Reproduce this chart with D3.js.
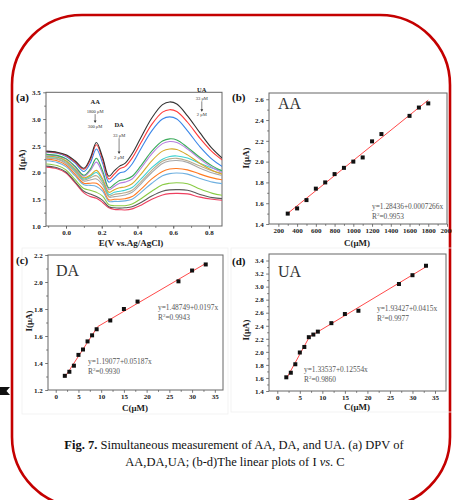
<!DOCTYPE html>
<html lang="en">
<head>
<meta charset="UTF-8">
<title>Fig. 7</title>
<script src="https://cdn.jsdelivr.net/npm/d3@7"></script>
<style>
  body { margin: 0; background: #fff; }
  svg { display: block; }
  text { font-family: "Liberation Serif", "Times New Roman", serif; }
</style>
</head>
<body>
<div id="container"></div>
<script>
// ---- panel (a): DPV curves, 14 concentrations (top curve = highest) ----
const potentials = [-0.11, -0.05, 0.00, 0.05, 0.10, 0.135, 0.17, 0.205, 0.24, 0.27, 0.30, 0.33, 0.37, 0.42, 0.48, 0.54, 0.58, 0.62, 0.68, 0.75, 0.82, 0.88];
const dpvColors = ["#333333", "#ff3a3a", "#3a86e8", "#3aaa5a", "#b77ee0", "#d6a82a", "#3ed2d2", "#b8ab8c", "#a8a8a8", "#ff7a22", "#6fb0e0", "#8acb45", "#5a5a5a", "#ee3f5f"];
const dpvCurves = [
  [2.40, 2.38, 2.33, 2.22, 2.08, 2.26, 2.56, 2.28, 1.93, 2.03, 2.12, 2.17, 2.35, 2.66, 3.02, 3.27, 3.32, 3.28, 3.06, 2.74, 2.44, 2.25],
  [2.39, 2.37, 2.32, 2.20, 2.06, 2.23, 2.52, 2.24, 1.88, 1.97, 2.07, 2.11, 2.27, 2.56, 2.90, 3.13, 3.175, 3.14, 2.94, 2.64, 2.38, 2.22],
  [2.38, 2.36, 2.30, 2.18, 2.02, 2.17, 2.44, 2.17, 1.82, 1.90, 1.99, 2.02, 2.16, 2.45, 2.78, 3.00, 3.04, 3.00, 2.78, 2.48, 2.24, 2.10],
  [2.34, 2.32, 2.26, 2.12, 1.95, 2.06, 2.265, 2.03, 1.71, 1.78, 1.85, 1.87, 1.93, 2.13, 2.40, 2.59, 2.63, 2.61, 2.47, 2.28, 2.12, 2.02],
  [2.33, 2.31, 2.25, 2.10, 1.93, 2.03, 2.195, 1.98, 1.68, 1.74, 1.80, 1.82, 1.88, 2.08, 2.35, 2.54, 2.58, 2.56, 2.44, 2.25, 2.09, 1.99],
  [2.31, 2.29, 2.22, 2.07, 1.90, 1.95, 2.04, 1.88, 1.63, 1.68, 1.715, 1.73, 1.79, 1.97, 2.22, 2.40, 2.44, 2.43, 2.33, 2.17, 2.04, 1.96],
  [2.30, 2.28, 2.21, 2.05, 1.88, 1.93, 2.00, 1.85, 1.59, 1.63, 1.65, 1.67, 1.72, 1.88, 2.09, 2.25, 2.30, 2.31, 2.27, 2.17, 2.08, 2.03],
  [2.28, 2.26, 2.19, 2.03, 1.86, 1.90, 1.94, 1.81, 1.56, 1.59, 1.605, 1.62, 1.67, 1.83, 2.04, 2.21, 2.255, 2.265, 2.22, 2.12, 2.03, 1.98],
  [2.27, 2.25, 2.17, 2.01, 1.84, 1.86, 1.88, 1.77, 1.54, 1.55, 1.56, 1.58, 1.63, 1.79, 2.00, 2.17, 2.215, 2.225, 2.19, 2.08, 1.99, 1.94],
  [2.25, 2.22, 2.14, 1.97, 1.80, 1.80, 1.80, 1.70, 1.49, 1.50, 1.50, 1.51, 1.55, 1.69, 1.88, 2.02, 2.065, 2.075, 2.05, 1.97, 1.90, 1.86],
  [2.22, 2.19, 2.11, 1.94, 1.77, 1.76, 1.74, 1.65, 1.46, 1.46, 1.46, 1.47, 1.50, 1.63, 1.80, 1.94, 1.98, 1.99, 1.97, 1.89, 1.82, 1.79],
  [2.16, 2.13, 2.05, 1.87, 1.70, 1.67, 1.63, 1.56, 1.40, 1.38, 1.38, 1.38, 1.41, 1.51, 1.65, 1.77, 1.80, 1.81, 1.79, 1.69, 1.61, 1.57],
  [2.12, 2.09, 2.01, 1.83, 1.65, 1.60, 1.55, 1.48, 1.36, 1.34, 1.335, 1.34, 1.36, 1.44, 1.56, 1.65, 1.675, 1.68, 1.67, 1.59, 1.53, 1.51],
  [2.10, 2.07, 1.99, 1.81, 1.62, 1.55, 1.52, 1.44, 1.34, 1.31, 1.305, 1.30, 1.32, 1.39, 1.50, 1.58, 1.605, 1.61, 1.60, 1.54, 1.50, 1.48]
];
const aTicksX = [0.0, 0.2, 0.4, 0.6, 0.8];
const aTicksY = [1.0, 1.5, 2.0, 2.5, 3.0, 3.5];

// ---- panel (b): AA ----
const aaConc = [300, 400, 500, 600, 700, 800, 900, 1000, 1100, 1200, 1300, 1600, 1700, 1800];
const aaCurrent = [1.50, 1.55, 1.63, 1.74, 1.80, 1.88, 1.94, 2.00, 2.04, 2.195, 2.265, 2.44, 2.52, 2.56];
const aaFits = [{ a: 1.28436, b: 0.0007266, from: 300, to: 1800 }];
const bTicksX = [200, 400, 600, 800, 1000, 1200, 1400, 1600, 1800, 2000];
const bTicksY = [1.4, 1.6, 1.8, 2.0, 2.2, 2.4, 2.6];

// ---- panel (c): DA ----
const daConc = [2, 3, 4, 5, 6, 7, 8, 9, 12, 15, 18, 27, 30, 33];
const daCurrent = [1.305, 1.335, 1.38, 1.46, 1.50, 1.56, 1.605, 1.65, 1.715, 1.80, 1.855, 2.005, 2.085, 2.13];
const daFits = [{ a: 1.19077, b: 0.05187, from: 2, to: 9.2 }, { a: 1.48749, b: 0.0197, from: 9.2, to: 33 }];
const cTicksX = [0, 5, 10, 15, 20, 25, 30, 35];
const cTicksY = [1.2, 1.4, 1.6, 1.8, 2.0, 2.2];

// ---- panel (d): UA ----
const uaConc = [2, 3, 4, 5, 6, 7, 8, 9, 12, 15, 18, 27, 30, 33];
const uaCurrent = [1.61, 1.68, 1.81, 1.99, 2.075, 2.225, 2.265, 2.31, 2.44, 2.58, 2.63, 3.04, 3.175, 3.32];
const uaFits = [{ a: 1.33537, b: 0.12554, from: 2, to: 7.1 }, { a: 1.93427, b: 0.0415, from: 7.1, to: 33 }];
const dTicksX = [0, 5, 10, 15, 20, 25, 30, 35];
const dTicksY = [1.4, 1.6, 1.8, 2.0, 2.2, 2.4, 2.6, 2.8, 3.0, 3.2, 3.4];

const W = 452, H = 500;
const svg = d3.select("#container").append("svg").attr("width", W).attr("height", H);

// rounded red frame round the whole figure
svg.append("rect").attr("x", 12).attr("y", 15).attr("width", 438).attr("height", 492)
  .attr("rx", 70).attr("fill", "none").attr("stroke", "#c40000").attr("stroke-width", 2.6);

// faint borders of the original sub images
svg.append("rect").attr("x", 22).attr("y", 248).attr("width", 206).attr("height", 166)
  .attr("fill", "none").attr("stroke", "#efefef").attr("stroke-width", 0.8);
svg.append("rect").attr("x", 231).attr("y", 248).attr("width", 230).attr("height", 164)
  .attr("fill", "none").attr("stroke", "#efefef").attr("stroke-width", 0.8);

// small black marker at left edge
svg.append("path").attr("d", "M0,387 L10,387 L6.5,391 L10,395 L0,395 Z").attr("fill", "#111");

function makePanel(p) {
  const g = svg.append("g");
  const x = d3.scaleLinear().domain(p.xDomain).range([p.left, p.right]);
  const y = d3.scaleLinear().domain(p.yDomain).range([p.bottom, p.top]);

  const tickStyle = sel => {
    sel.select(".domain").remove();
    sel.selectAll("line").attr("stroke", "#555").attr("stroke-width", 0.8);
    sel.selectAll("text").attr("font-size", 7).attr("font-weight", "bold")
      .attr("font-family", "Liberation Serif, serif").attr("fill", "#222");
  };
  g.append("g").attr("transform", `translate(0,${p.bottom})`)
    .call(d3.axisBottom(x).tickValues(p.xMinor).tickSize(1.8).tickFormat(""))
    .call(tickStyle);
  g.append("g").attr("transform", `translate(0,${p.bottom})`)
    .call(d3.axisBottom(x).tickValues(p.xTicks).tickSize(2.8).tickPadding(1.5).tickFormat(p.xFmt))
    .call(tickStyle);
  g.append("g").attr("transform", `translate(${p.left},0)`)
    .call(d3.axisLeft(y).tickValues(p.yMinor).tickSize(1.8).tickFormat(""))
    .call(tickStyle);
  g.append("g").attr("transform", `translate(${p.left},0)`)
    .call(d3.axisLeft(y).tickValues(p.yTicks).tickSize(2.8).tickPadding(2.5).tickFormat(d3.format(".1f")))
    .call(tickStyle);

  g.append("rect").attr("x", p.left).attr("y", p.top)
    .attr("width", p.right - p.left).attr("height", p.bottom - p.top)
    .attr("fill", "none").attr("stroke", "#666").attr("stroke-width", 1);

  // panel letter
  g.append("text").attr("x", p.tagX).attr("y", p.tagY).text(p.tag)
    .attr("font-size", 11).attr("font-weight", "bold").attr("fill", "#111");
  // axis titles
  g.append("text").attr("x", p.xTitleX).attr("y", p.xTitleY).attr("text-anchor", "middle")
    .attr("font-size", 9).attr("font-weight", "bold").attr("fill", "#222").text(p.xTitle);
  g.append("text").attr("transform", `translate(${p.yTitleX},${p.yTitleY}) rotate(-90)`)
    .attr("text-anchor", "middle").attr("font-size", 9).attr("font-weight", "bold")
    .attr("fill", "#222").text("I(μA)");
  return { g, x, y };
}

function eqLabel(g, x0, y0, eq, r2) {
  g.append("text").attr("x", x0).attr("y", y0).attr("font-size", 7.4).attr("fill", "#555").text(eq);
  const t = g.append("text").attr("x", x0).attr("y", y0 + 10).attr("font-size", 7.4).attr("fill", "#555");
  t.append("tspan").text("R");
  t.append("tspan").attr("dy", -3).attr("font-size", 5).text("2");
  t.append("tspan").attr("dy", 3).text("=" + r2);
}

function scatterPanel(p, conc, current, fits) {
  const { g, x, y } = makePanel(p);
  fits.forEach(f => {
    g.append("line")
      .attr("x1", x(f.from)).attr("y1", y(f.a + f.b * f.from))
      .attr("x2", x(f.to)).attr("y2", y(f.a + f.b * f.to))
      .attr("stroke", "#ff4a4a").attr("stroke-width", 1);
  });
  g.selectAll("rect.pt").data(conc).enter().append("rect").attr("class", "pt")
    .attr("x", (d) => x(d) - 2).attr("y", (d, i) => y(current[i]) - 2)
    .attr("width", 4).attr("height", 4).attr("fill", "#111");
  g.append("text").attr("x", p.nameX).attr("y", p.nameY).text(p.name)
    .attr("font-size", 16).attr("fill", "#333");
  p.eqs.forEach(e => eqLabel(g, e.x, e.y, e.eq, e.r2));
  return { g, x, y };
}

// ---------- (a) ----------
const pa = makePanel({
  left: 46, right: 222, top: 92.3, bottom: 226,
  xDomain: [-0.112, 0.873], yDomain: [1.0, 3.5],
  xTicks: aTicksX, xMinor: d3.range(-0.1, 0.85, 0.1), xFmt: d3.format(".1f"),
  yTicks: aTicksY, yMinor: d3.range(1.25, 3.5, 0.5),
  tag: "(a)", tagX: 16, tagY: 101,
  xTitle: "E(V vs.Ag/AgCl)", xTitleX: 131, xTitleY: 246,
  yTitleX: 25, yTitleY: 160
});
svg.append("clipPath").attr("id", "clipA").append("rect")
  .attr("x", 46).attr("y", 92.3).attr("width", 176).attr("height", 133.7);
const dpvLine = d3.line()
  .x((d, i) => pa.x(potentials[i]))
  .y(d => pa.y(d))
  .curve(d3.curveCatmullRom.alpha(0.5));
// draw the lowest first so the upper curves sit on top
pa.g.append("g").attr("clip-path", "url(#clipA)")
  .selectAll("path").data(dpvCurves.map((c, i) => ({ c, i })).reverse()).enter().append("path")
  .attr("d", d => dpvLine(d.c)).attr("fill", "none")
  .attr("stroke", d => dpvColors[d.i]).attr("stroke-width", 1.1);

// annotations in panel (a)
function anno(g, xs, ys, name, hi, lo, cx, yName, yHi, yLo) {
  g.append("text").attr("x", xs(cx)).attr("y", ys(yName)).attr("text-anchor", "middle")
    .attr("font-size", 6.5).attr("font-weight", "bold").attr("fill", "#222").text(name);
  g.append("text").attr("x", xs(cx)).attr("y", ys(yHi)).attr("text-anchor", "middle")
    .attr("font-size", 4.6).attr("fill", "#333").text(hi);
  g.append("line").attr("x1", xs(cx)).attr("x2", xs(cx))
    .attr("y1", ys(yHi) + 1.5).attr("y2", ys(yLo) - 6).attr("stroke", "#333").attr("stroke-width", 0.6);
  g.append("path").attr("d", `M${xs(cx) - 1.4},${ys(yLo) - 7} L${xs(cx) + 1.4},${ys(yLo) - 7} L${xs(cx)},${ys(yLo) - 4.6} Z`)
    .attr("fill", "#333");
  g.append("text").attr("x", xs(cx)).attr("y", ys(yLo)).attr("text-anchor", "middle")
    .attr("font-size", 4.6).attr("fill", "#333").text(lo);
}
anno(pa.g, pa.x, pa.y, "AA", "1800 μM", "300 μM", 0.163, 3.29, 3.12, 2.84);
anno(pa.g, pa.x, pa.y, "DA", "33 μM", "2 μM", 0.297, 2.86, 2.67, 2.26);
anno(pa.g, pa.x, pa.y, "UA", "33 μM", "2 μM", 0.76, 3.51, 3.36, 3.05);

// ---------- (b) ----------
scatterPanel({
  left: 269, right: 447, top: 93, bottom: 224,
  xDomain: [100, 2000], yDomain: [1.4, 2.66],
  xTicks: bTicksX, xMinor: d3.range(300, 2000, 200), xFmt: d3.format("d"),
  yTicks: bTicksY, yMinor: d3.range(1.5, 2.66, 0.2),
  tag: "(b)", tagX: 232, tagY: 101,
  xTitle: "C(μM)", xTitleX: 357, xTitleY: 246,
  yTitleX: 249, yTitleY: 158,
  name: "AA", nameX: 278, nameY: 109,
  eqs: [{ x: 372, y: 209, eq: "y=1.28436+0.0007266x", r2: "0.9953" }]
}, aaConc, aaCurrent, aaFits);

// ---------- (c) ----------
scatterPanel({
  left: 48, right: 223, top: 255, bottom: 390,
  xDomain: [-1.7, 36.8], yDomain: [1.2, 2.2],
  xTicks: cTicksX, xMinor: d3.range(2.5, 36, 5), xFmt: d3.format("d"),
  yTicks: cTicksY, yMinor: d3.range(1.3, 2.2, 0.2),
  tag: "(c)", tagX: 16, tagY: 264,
  xTitle: "C(μM)", xTitleX: 135, xTitleY: 411,
  yTitleX: 32, yTitleY: 321,
  name: "DA", nameX: 56, nameY: 276,
  eqs: [{ x: 158, y: 310, eq: "y=1.48749+0.0197x", r2: "0.9943" },
        { x: 88, y: 364, eq: "y=1.19077+0.05187x", r2: "0.9930" }]
}, daConc, daCurrent, daFits);

// ---------- (d) ----------
scatterPanel({
  left: 269, right: 446, top: 254, bottom: 391,
  xDomain: [-1.84, 37.44], yDomain: [1.4, 3.5],
  xTicks: dTicksX, xMinor: d3.range(2.5, 37, 5), xFmt: d3.format("d"),
  yTicks: dTicksY, yMinor: d3.range(1.5, 3.5, 0.2),
  tag: "(d)", tagX: 232, tagY: 265,
  xTitle: "C(μM)", xTitleX: 357, xTitleY: 409.5,
  yTitleX: 249, yTitleY: 330,
  name: "UA", nameX: 278, nameY: 277,
  eqs: [{ x: 377, y: 311, eq: "y=1.93427+0.0415x", r2: "0.9977" },
        { x: 304, y: 372, eq: "y=1.33537+0.12554x", r2: "0.9860" }]
}, uaConc, uaCurrent, uaFits);

// ---------- caption ----------
const cap1 = svg.append("text").attr("x", 234).attr("y", 449).attr("text-anchor", "middle")
  .attr("font-size", 12.5).attr("fill", "#111");
cap1.append("tspan").attr("font-weight", "bold").text("Fig. 7.");
cap1.append("tspan").text(" Simultaneous measurement of AA, DA, and UA. (a) DPV of");
const cap2 = svg.append("text").attr("x", 235).attr("y", 466).attr("text-anchor", "middle")
  .attr("font-size", 12.5).attr("fill", "#111");
cap2.append("tspan").text("AA,DA,UA; (b-d)The linear plots of I ");
cap2.append("tspan").attr("font-style", "italic").text("vs");
cap2.append("tspan").text(". C");
</script>
</body>
</html>
